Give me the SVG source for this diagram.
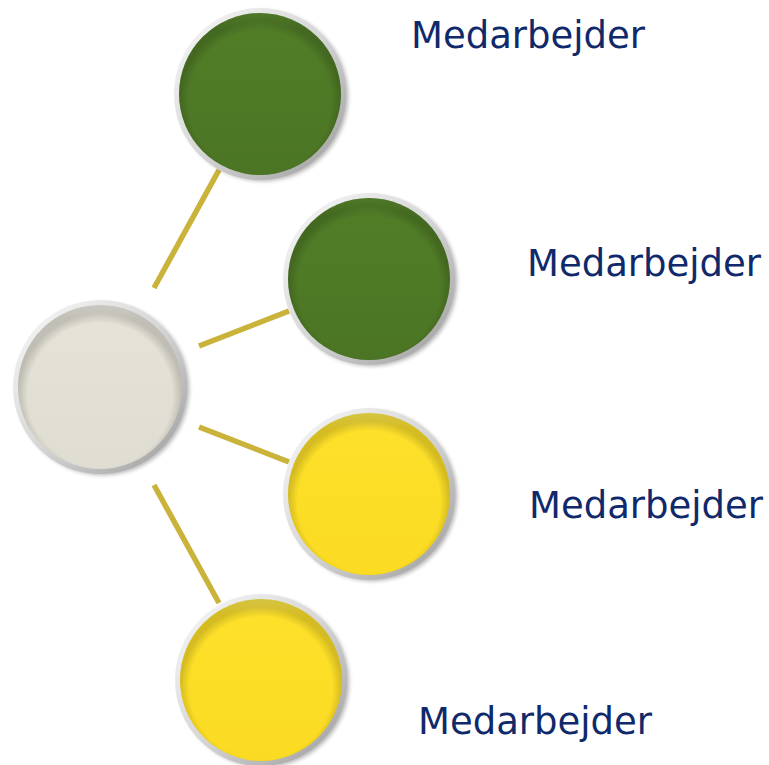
<svg xmlns="http://www.w3.org/2000/svg" width="769" height="765" viewBox="0 0 769 765">
  <defs>
    <style>
      .conn { stroke: #c9b33b; stroke-width: 5.5; stroke-linecap: butt; fill: none; }
      .label { font-family: "DejaVu Sans", "Liberation Sans", sans-serif; font-size: 37px; fill: #10296b; }
      .ring { fill: url(#ringGrad); }
      .shadow { fill: #000; opacity: 0.3; filter: url(#blur); }
      .shade { fill: url(#shadeGrad); }
    </style>
    <filter id="blur" x="-20%" y="-20%" width="140%" height="140%">
      <feGaussianBlur stdDeviation="2"/>
    </filter>
    <linearGradient id="ringGrad" x1="0" y1="0" x2="1" y2="1">
      <stop offset="0" stop-color="#fafafa"/>
      <stop offset="0.5" stop-color="#d6d6d6"/>
      <stop offset="1" stop-color="#9a9a9a"/>
    </linearGradient>
    <radialGradient id="shadeGrad" cx="0.5" cy="0.55" r="0.5">
      <stop offset="0.88" stop-color="#000" stop-opacity="0"/>
      <stop offset="1" stop-color="#000" stop-opacity="0.16"/>
    </radialGradient>
    <linearGradient id="greenGrad" x1="0" y1="0" x2="0" y2="1">
      <stop offset="0" stop-color="#5e8f2e"/>
      <stop offset="0.1" stop-color="#517d27"/>
      <stop offset="1" stop-color="#4b7524"/>
    </linearGradient>
    <linearGradient id="yellowGrad" x1="0" y1="0" x2="0" y2="1">
      <stop offset="0" stop-color="#feea50"/>
      <stop offset="0.1" stop-color="#fde02a"/>
      <stop offset="1" stop-color="#fbdb22"/>
    </linearGradient>
    <linearGradient id="greyGrad" x1="0" y1="0" x2="0" y2="1">
      <stop offset="0" stop-color="#f0eee6"/>
      <stop offset="0.1" stop-color="#e5e2d7"/>
      <stop offset="1" stop-color="#dfddd2"/>
    </linearGradient>
  </defs>
  <rect width="769" height="765" fill="#ffffff"/>

  <g id="connectors">
    <line class="conn" x1="154" y1="288" x2="219" y2="170"/>
    <line class="conn" x1="199" y1="346" x2="289" y2="311"/>
    <line class="conn" x1="199" y1="427" x2="289" y2="462"/>
    <line class="conn" x1="154" y1="485" x2="219" y2="603"/>
  </g>

  <g id="node-center">
    <circle class="shadow" cx="103" cy="389" r="86"/>
    <circle class="ring" cx="100" cy="387" r="87"/>
    <circle cx="100" cy="387" r="82" fill="url(#greyGrad)"/>
    <circle class="shade" cx="100" cy="387" r="82"/>
  </g>

  <g id="node-1">
    <circle class="shadow" cx="263" cy="96" r="85"/>
    <circle class="ring" cx="260" cy="94" r="86"/>
    <circle cx="260" cy="94" r="81" fill="url(#greenGrad)"/>
    <circle class="shade" cx="260" cy="94" r="81"/>
    <text class="label" x="411" y="48">Medarbejder</text>
  </g>

  <g id="node-2">
    <circle class="shadow" cx="372" cy="281" r="85"/>
    <circle class="ring" cx="369" cy="279" r="86"/>
    <circle cx="369" cy="279" r="81" fill="url(#greenGrad)"/>
    <circle class="shade" cx="369" cy="279" r="81"/>
    <text class="label" x="527" y="276">Medarbejder</text>
  </g>

  <g id="node-3">
    <circle class="shadow" cx="372" cy="496" r="85"/>
    <circle class="ring" cx="369" cy="494" r="86"/>
    <circle cx="369" cy="494" r="81" fill="url(#yellowGrad)"/>
    <circle class="shade" cx="369" cy="494" r="81"/>
    <text class="label" x="529" y="518">Medarbejder</text>
  </g>

  <g id="node-4">
    <circle class="shadow" cx="264" cy="682" r="85"/>
    <circle class="ring" cx="261" cy="680" r="86"/>
    <circle cx="261" cy="680" r="81" fill="url(#yellowGrad)"/>
    <circle class="shade" cx="261" cy="680" r="81"/>
    <text class="label" x="418" y="734">Medarbejder</text>
  </g>
</svg>
